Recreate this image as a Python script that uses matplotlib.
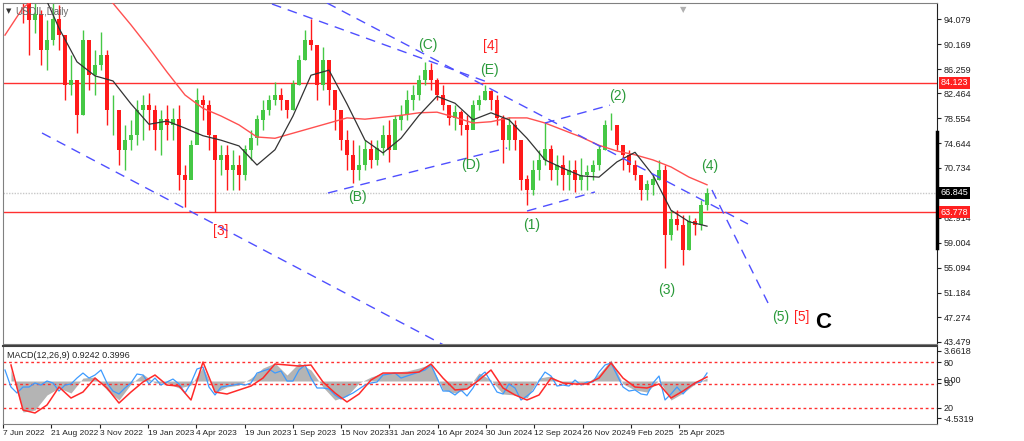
import numpy as np
import matplotlib.pyplot as plt

plt.rcParams['font.family'] = ['Liberation Sans', 'DejaVu Sans']

# ---- price candles (one candle ~ 6 trading days) ----
first_open = 121.0
highs = [123, 122, 118, 111, 101, 97.5, 95.5, 94.0, 97.5, 96.3, 91.6, 88.5, 82.2, 92.4, 90.8, 89.3, 92.1, 89.3, 82.2, 79.8,
         77.5, 78.3, 81.4, 82.2, 82.5, 80.6, 79.8, 80.6, 80.1, 80.6, 71.2, 75.1, 83.3, 82.2, 81.4, 75.1, 74.3, 74.3, 73.6, 72.8,
         74.3, 76.7, 79.0, 81.4, 82.2, 84.2, 83.3, 81.4, 84.5, 88.5, 92.4, 94.1, 90.0, 89.7, 86.9, 82.2, 79.8, 76.7, 75.1, 74.3,
         75.1, 75.1, 75.1, 77.5, 78.3, 79.0, 80.6, 83.0, 83.8, 85.3, 87.4, 87.2, 84.9, 83.8, 80.6, 80.6, 79.8, 79.0, 81.4, 82.2,
         83.8, 83.0, 82.2, 79.0, 78.7, 78.3, 75.1, 69.6, 72.0, 73.6, 77.9, 74.3, 72.8, 72.8, 72.0, 72.0, 72.3, 71.2, 72.0, 74.3,
         78.3, 79.4, 77.5, 74.3, 73.6, 72.0, 69.6, 68.9, 69.6, 72.0, 71.2, 64.1, 64.1, 63.3, 63.3, 62.9, 65.7, 67.6]
lows = [116, 114, 104, 93.5, 88.5, 92.0, 86.9, 86.1, 90.0, 89.3, 81.4, 82.2, 76.2, 79.0, 83.0, 82.2, 86.1, 77.5, 75.9, 71.2,
        70.4, 73.6, 74.3, 75.1, 76.7, 73.6, 72.8, 75.1, 75.1, 67.3, 64.6, 69.6, 75.1, 78.3, 73.6, 63.8, 69.6, 67.3, 67.3, 67.3,
        68.9, 72.0, 74.3, 76.7, 79.0, 80.6, 79.8, 78.6, 79.8, 83.8, 87.7, 89.3, 81.4, 83.0, 80.6, 76.7, 73.6, 70.4, 68.4, 68.9,
        70.4, 70.7, 71.2, 72.8, 71.7, 75.9, 76.7, 78.3, 79.8, 81.4, 83.8, 83.0, 81.4, 79.8, 77.5, 76.7, 75.9, 72.0, 77.5, 79.8,
        81.4, 79.8, 77.5, 71.5, 73.6, 73.6, 67.3, 64.9, 66.5, 68.9, 71.2, 68.9, 68.1, 67.3, 67.3, 67.0, 67.3, 67.3, 68.9, 70.4,
        73.6, 76.7, 73.6, 70.4, 70.1, 68.9, 65.7, 65.7, 66.5, 68.9, 55.0, 59.4, 61.0, 55.5, 57.9, 60.2, 61.0, 64.1]
closes = [119, 117, 107, 99, 94.0, 94.8, 89.3, 90.8, 94.0, 91.6, 83.8, 84.5, 79.0, 90.8, 85.3, 86.9, 88.5, 79.8, 79.8, 73.6,
          75.1, 75.9, 79.8, 80.6, 79.8, 76.7, 78.3, 77.5, 78.3, 69.6, 68.9, 74.3, 81.4, 80.6, 75.9, 72.0, 72.8, 70.4, 71.2, 69.6,
          73.6, 75.4, 78.3, 79.8, 81.4, 82.2, 81.4, 79.8, 83.8, 87.7, 90.8, 90.0, 83.8, 87.7, 83.0, 79.8, 75.1, 72.8, 70.4, 71.2,
          73.6, 72.0, 73.9, 75.9, 73.6, 78.3, 79.0, 81.4, 82.2, 84.5, 86.1, 84.5, 82.2, 80.6, 78.6, 79.5, 77.5, 76.7, 80.6, 81.4,
          82.7, 81.4, 78.6, 75.1, 77.5, 75.1, 68.9, 67.3, 70.4, 72.0, 73.6, 70.4, 71.2, 69.6, 70.4, 68.9, 69.6, 70.1, 71.2, 73.6,
          77.5, 77.5, 74.3, 72.8, 71.2, 69.6, 67.3, 68.1, 68.9, 70.4, 60.2, 62.6, 61.8, 57.9, 62.3, 61.8, 64.9, 66.8]

# moving averages, one value every 3 candles
ma_idx = list(range(0, 118, 3))
ma_fast = [108, 104, 99, 92.7, 87.4, 85.2, 84.4, 80.8, 77.6, 78.1, 77.0, 75.8, 75.1, 74.2, 71.2, 73.6, 78.9, 85.3, 86.1, 80.8,
           75.1, 73.1, 75.4, 79.0, 82.0, 80.9, 78.3, 79.4, 78.3, 75.4, 72.0, 70.7, 69.5, 69.3, 71.7, 73.2, 69.6, 64.1, 62.3, 61.6]
ma_slow = [91.6, 95.9, 98.0, 99.0, 99.5, 98.5, 96.6, 93.2, 89.6, 85.8, 82.2, 80.1, 78.9, 77.5, 75.6, 75.4, 76.2, 77.0, 77.8, 78.6,
           78.4, 78.7, 79.0, 79.4, 79.5, 78.7, 77.8, 78.0, 78.6, 78.6, 77.8, 76.7, 75.6, 74.3, 73.4, 72.8, 72.0, 70.9, 69.3, 68.1]

# MACD panel
macd_idx = list(range(1, 118, 2))
macd_hist = [1.34, -3.77, -3.53, -1.70, -0.85, -1.46, 0.36, 0.49, -1.09, -2.31, -0.36, 0.85, -0.24, -0.24, -0.85, -0.49, 1.70,
             -1.46, -0.73, -0.49, 0.36, 1.58, 2.19, 0.73, 2.19, 1.34, -0.73, -2.31, -1.82, -0.24, 0.49, 0.97, 1.09, 1.22, 1.58,
             2.07, -1.09, -1.46, -0.97, 0.97, 0.12, -1.58, -1.70, -2.07, 0.36, 0.61, -0.36, -0.12, -0.24, 0.85, 2.55, -0.36,
             -1.09, -1.34, 0.12, -2.31, -1.46, -0.36, 0.36]
macd_signal = [1.95, -3.53, -3.89, -2.92, -0.73, -2.07, -1.34, 0.36, -0.85, -2.68, -1.34, -0.12, 0.73, -0.49, -0.61, -2.31,
               2.31, -1.34, -1.58, -1.09, -0.61, 0.36, 2.07, 1.95, 1.82, 1.95, -0.12, -1.46, -2.55, -1.58, 0.12, 0.97, 0.97,
               0.97, 1.09, 2.07, 0.36, -1.09, -0.97, 0.12, 1.34, -0.85, -1.70, -2.31, -1.70, 0.36, -0.24, -0.36, -0.36, 0.36,
               2.19, 0.36, -0.73, -0.85, -0.36, -2.07, -1.22, -0.24, 0.49]
osc_line = [1.34, -0.73, -1.46, -0.73, -0.73, -0.24, -0.49, 0.0, -0.24, -1.22, -0.49, -0.36, 0.36, 0.97, 0.36, 0.73, 1.34,
            -0.24, -1.22, -1.58, -0.85, -0.24, 0.85, 0.73, -0.36, 0.36, -0.49, -0.12, 0.24, -0.36, -1.46, -0.24, 1.46, 1.70,
            -0.73, -1.70, -0.73, -0.61, -0.49, -0.36, -0.49, -0.24, 0.97, 1.22, 1.46, 0.97, 1.22, 0.0, 0.0, 1.34, 1.95, 0.36,
            -0.85, -0.85, -0.97, -1.70, -2.19, -1.82, -1.46, -0.97, -0.49, -0.24, -0.12, 0.73, 0.85, 0.97, 0.36, 0.61, 0.85,
            1.09, 1.34, 1.95, 0.36, -1.22, -1.22, -1.70, -1.09, -1.82, -0.85, 0.49, 1.09, -0.12, -1.34, -1.58, -0.36, -0.85,
            -2.31, -1.82, -1.22, 0.0, 1.09, 0.61, -0.61, -0.49, -0.61, 0.12, -0.49, -0.12, -0.12, 1.09, 1.95, 2.19, 0.73,
            -0.73, -1.22, -1.09, -1.58, -1.70, -0.24, 0.61, -2.31, -1.58, -0.73, -1.58, -0.73, -0.24, -0.12, 0.97]

date_labels = ['7 Jun 2022', '21 Aug 2022', '3 Nov 2022', '19 Jan 2023', '4 Apr 2023', '19 Jun 2023', '1 Sep 2023',
               '15 Nov 2023', '31 Jan 2024', '16 Apr 2024', '30 Jun 2024', '12 Sep 2024', '26 Nov 2024', '9 Feb 2025',
               '25 Apr 2025']
price_ticks = [94.079, 90.169, 86.259, 82.464, 78.554, 74.644, 70.734, 62.914, 59.004, 55.094, 51.184, 47.274, 43.479]
res_level, sup_level, last_price = 84.123, 63.778, 66.845

# trendlines (candle index, price)
trendlines = [
    ((6.17, 76.23), (74.0, 42.5)),
    ((53.67, 96.64), (123.83, 61.94)),
    ((44.5, 96.48), (80.83, 84.08)),
    ((53.83, 66.81), (83.67, 73.87)),
    ((90.0, 77.8), (100.83, 80.6)),
    ((87.0, 63.98), (98.33, 66.97)),
    ((117.83, 67.28), (127.17, 49.54)),
]
wave_labels = [
    ('(C)', 70.5, 90.0, 'green'), ('[4]', 81.0, 89.9, 'red'), ('(E)', 80.8, 86.1, 'green'),
    ('(D)', 77.7, 71.2, 'green'), ('(B)', 58.8, 66.2, 'green'), ('(2)', 102.2, 82.0, 'green'),
    ('(1)', 87.8, 61.8, 'green'), ('(3)', 110.2, 51.6, 'green'), ('(4)', 117.5, 71.0, 'green'),
    ('(5)', 129.2, 47.3, 'green'), ('[5]', 132.8, 47.3, 'red'), ('[3]', 36.0, 60.8, 'red'),
]

GREEN_TXT = '#2a9a3a'
fig = plt.figure(figsize=(10.24, 4.41), dpi=100)
ax = fig.add_axes([3 / 1024, 97 / 441, 934 / 1024, 341 / 441])
axm = fig.add_axes([3 / 1024, 17 / 441, 934 / 1024, 78 / 441])

n = len(closes)
x = np.arange(n)
o = np.array([first_open] + closes[:-1])
c = np.array(closes)
up = c >= o
colors = np.where(up, '#45c845', '#ff1a1a')
ax.vlines(x, lows, highs, colors=colors, lw=1.0, zorder=2)
ax.bar(x, np.abs(c - o) + 0.05, bottom=np.minimum(o, c), width=0.65, color=colors, zorder=3)

ax.plot(ma_idx, ma_slow, color='#ff5050', lw=1, zorder=4)
ax.plot(ma_idx, ma_fast, color='#333333', lw=0.9, zorder=4)

ax.axhline(res_level, color='#ff3030', lw=1, zorder=1)
ax.axhline(sup_level, color='#ff3030', lw=1, zorder=1)
ax.axhline(last_price, color='#c8c8c8', lw=1, ls=(0, (1, 1)), zorder=1)

for (x0, y0), (x1, y1) in trendlines:
    ax.plot([x0, x1], [y0, y1], color='#4f4fff', lw=1, ls=(0, (7, 5)), zorder=5)

for txt, tx, ty, col in wave_labels:
    ax.text(tx, ty, txt, color=GREEN_TXT if col == 'green' else '#ff2020', fontsize=10,
            ha='center', va='center', zorder=6)
ax.text(136.3, 46.4, 'C', color='black', fontsize=16, fontweight='bold', ha='center', va='center', zorder=6)

ax.set_xlim(-0.33, 155.33)
ax.set_ylim(43.1, 96.64)
ax.set_xticks([])
ax.yaxis.tick_right()
ax.set_yticks(price_ticks)
ax.set_yticklabels(['%.3f' % v for v in price_ticks])
ax.tick_params(axis='y', labelsize=6.5, length=3, pad=2, colors='#222222')
for s in ['left', 'top', 'bottom']:
    ax.spines[s].set_color('#808080')
ax.spines['right'].set_color('#202020')

ytr = ax.get_yaxis_transform()
for val, bg in [(res_level, '#ff2020'), (sup_level, '#ff2020'), (last_price, 'black')]:
    ax.text(1.004, val, '%.3f' % val, transform=ytr, fontsize=6.5, color='white', va='center', ha='left',
            bbox=dict(boxstyle='square,pad=0.15', fc=bg, ec='none'), clip_on=False, zorder=10)
ax.plot([1, 1], [0.282, 0.622], transform=ax.transAxes, color='black', lw=2.5, clip_on=False, zorder=9)

ax.text(0.013, 0.988, 'USOIL,Daily', transform=ax.transAxes, fontsize=7, color='#666666', va='top', zorder=7)
ax.text(0.003, 0.984, '▼', transform=ax.transAxes, fontsize=5, color='#333333', va='top', zorder=7,
        family='DejaVu Sans')
ax.text(113, 96.3, '▼', fontsize=6, color='#b0b0b0', ha='center', va='top', zorder=7, family='DejaVu Sans')

# MACD
mi = np.array(macd_idx)
mh = np.array(macd_hist)
axm.fill_between(mi, 0, mh, color='#b4b4b4', lw=0, zorder=1)
for lv in [2.31, -0.36, -3.28]:
    axm.axhline(lv, color='#ff3030', lw=1, ls=(0, (2, 2)), zorder=2)
axm.plot(x, osc_line, color='#3d9bff', lw=0.9, zorder=3)
axm.plot(mi, macd_signal, color='#ff2a2a', lw=1.1, zorder=4)
axm.text(0.004, 0.93, 'MACD(12,26,9) 0.9242 0.3996', transform=axm.transAxes, fontsize=6.5, color='#222222', va='top')

axm.set_xlim(-0.33, 155.33)
axm.set_ylim(-5.23, 4.26)
axm.yaxis.tick_right()
macd_ticks = [3.6618, 2.31, 0.24, -0.24, -3.28, -4.5319]
axm.set_yticks(macd_ticks)
axm.set_yticklabels(['3.6618', '80', '0.00', '50', '20', '-4.5319'])
axm.tick_params(axis='y', labelsize=6.5, length=3, pad=2, colors='#222222')
tick_pos = [-0.33 + 8.05 * k for k in range(len(date_labels))]
axm.set_xticks(tick_pos)
axm.set_xticklabels(date_labels)
axm.tick_params(axis='x', labelsize=6.0, length=3, pad=1, colors='#222222')
for lab in axm.get_xticklabels():
    lab.set_ha('left')
for s in ['left', 'top', 'bottom']:
    axm.spines[s].set_color('#808080')
axm.spines['top'].set_color('#404040')
axm.spines['top'].set_linewidth(1.5)
axm.spines['right'].set_color('#202020')

fig.savefig('out.png', dpi=100)
